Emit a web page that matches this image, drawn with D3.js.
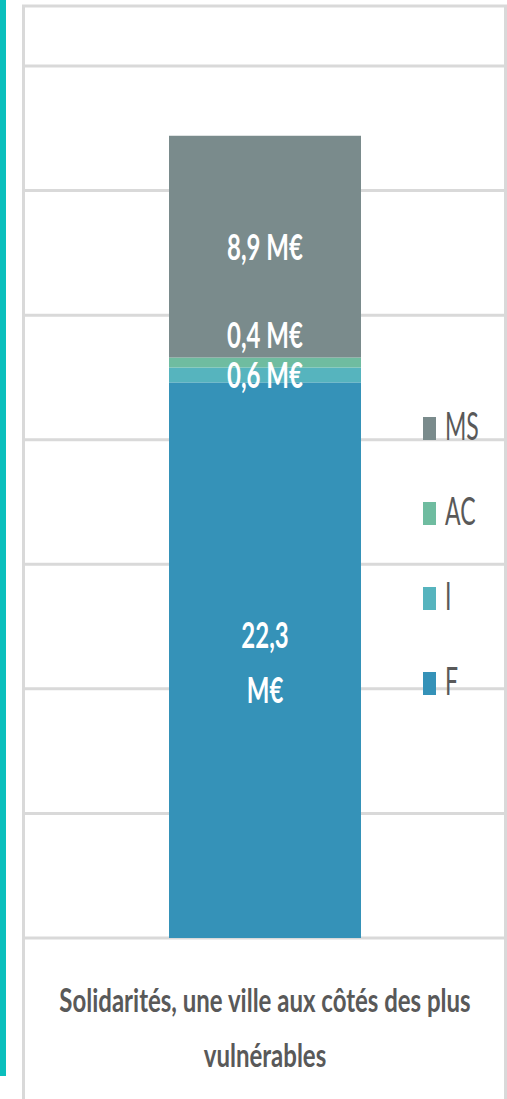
<!DOCTYPE html>
<meta charset="utf-8">
<script src="https://d3js.org/d3.v7.min.js"></script>
<style>
  body { margin: 0; background: #fff; }
  text { font-family: Lato, "Open Sans", sans-serif; }
</style>
<div id="chart"></div>
<script>

// data
var categories = ["Solidarités, une ville aux côtés des plus vulnérables"];
var seriesNames = ["F", "I", "AC", "MS"];
var seriesValues = [22.3, 0.6, 0.4, 8.9];
var seriesLabels = ["22,3 M€", "0,6 M€", "0,4 M€", "8,9 M€"];
var yTicks = [0, 5, 10, 15, 20, 25, 30, 35];
var titleLines = ["Solidarités, une ville aux côtés des plus", "vulnérables"];

var colors = ["#3592b8", "#56b4be", "#6fbca0", "#7a8b8c"];

var width = 507, height = 1099;

var svg = d3.select("#chart").append("svg")
    .attr("width", width)
    .attr("height", height);

// teal side bar
svg.append("rect")
    .attr("x", 0).attr("y", 0)
    .attr("width", 6).attr("height", 1076)
    .style("fill", "#0bbfbd");

// scales
var x = d3.scaleBand()
    .domain(categories)
    .range([25, 505])
    .paddingInner(0.6)
    .paddingOuter(0.3);

var y = d3.scaleLinear()
    .domain([0, 35])
    .range([938, 66]);

// gridlines
svg.append("g")
  .selectAll("line")
  .data(yTicks)
  .enter()
  .append("line")
    .attr("x1", 25).attr("x2", 505)
    .attr("y1", function(d) { return y(d); })
    .attr("y2", function(d) { return y(d); })
    .style("stroke", "#d9d9d9")
    .style("stroke-width", 3);

// chart border (left, top, right)
svg.append("path")
    .attr("d", "M23.5,1099V6H505.5V1099")
    .style("fill", "none")
    .style("stroke", "#d9d9d9")
    .style("stroke-width", 3);

// stack
var stack = [];
var acc = 0;
seriesValues.forEach(function(v, i) {
  stack.push({ name: seriesNames[i], y0: acc, y1: acc + v, label: seriesLabels[i], color: colors[i] });
  acc += v;
});

var cat = categories[0];

svg.append("g")
  .selectAll("rect")
  .data(stack)
  .enter()
  .append("rect")
    .attr("x", x(cat))
    .attr("width", x.bandwidth())
    .attr("y", function(d) { return y(d.y1); })
    .attr("height", function(d) { return y(d.y0) - y(d.y1); })
    .style("fill", function(d) { return d.color; });

// stretched text helper (the picture is stretched vertically)
function addText(parent, str, tx, ty, size, sy, weight, fill, anchor) {
  parent.append("text")
      .attr("transform", "translate(" + tx + "," + ty + ") scale(1," + sy + ")")
      .attr("text-anchor", anchor || "middle")
      .style("font-size", size + "px")
      .style("font-weight", weight)
      .style("fill", fill)
      .text(str);
}

// data labels
var labelNudge = { AC: -27 };
var cx = x(cat) + x.bandwidth() / 2;
var labels = svg.append("g");
stack.forEach(function(d) {
  var mid = (y(d.y0) + y(d.y1)) / 2 + (labelNudge[d.name] || 0);
  if (d.name === "F") {
    // wrapped on two lines
    var parts = d.label.split(" ");
    addText(labels, parts[0], cx, mid - 12, 24, 1.5, 700, "#fff");
    addText(labels, parts[1], cx, mid + 43, 24, 1.5, 700, "#fff");
  } else {
    addText(labels, d.label, cx, mid + 13, 24, 1.5, 700, "#fff");
  }
});

// legend (reverse order)
var legend = svg.append("g");
stack.slice().reverse().forEach(function(d, i) {
  var bottom = 440 + i * 85;
  legend.append("rect")
      .attr("x", 423).attr("y", bottom - 23)
      .attr("width", 13).attr("height", 23)
      .style("fill", d.color);
  addText(legend, d.name, 445, bottom, 23, 1.65, 400, "#595959", "start");
});

// category title
addText(svg, titleLines[0], 265, 1012, 24, 1.35, 700, "#595959");
addText(svg, titleLines[1], 265, 1067, 24, 1.35, 700, "#595959");

</script>
